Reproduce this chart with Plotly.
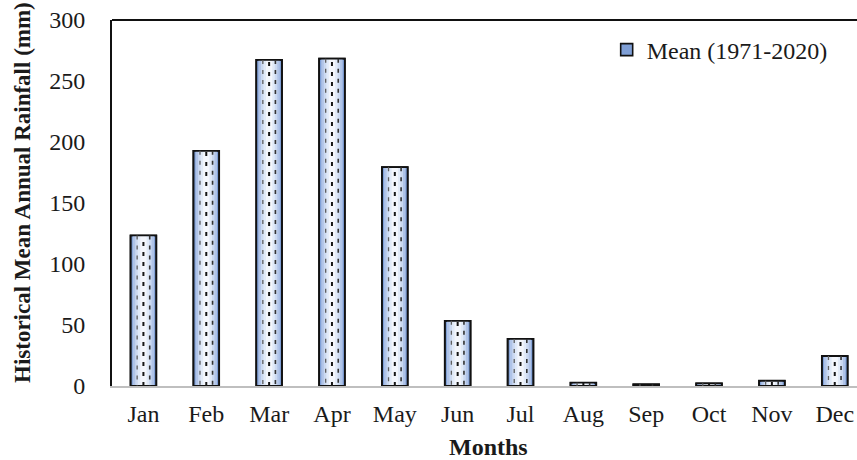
import plotly.graph_objects as go

months = ['Jan', 'Feb', 'Mar', 'Apr', 'May', 'Jun', 'Jul', 'Aug', 'Sep', 'Oct', 'Nov', 'Dec']
mean_rainfall = [123.4, 192.8, 267.3, 268.3, 179.4, 53.4, 38.6, 2.7, 1.4, 2.2, 4.3, 24.6]
y_ticks = [0, 50, 100, 150, 200, 250, 300]

x = list(range(len(months)))
font_family = 'Liberation Serif, Times New Roman, serif'
bar_width = 0.41

fig = go.Figure()

# outer bar (carries the legend entry)
fig.add_trace(go.Bar(
    x=x, y=mean_rainfall, width=bar_width,
    name='Mean (1971-2020)',
    marker=dict(color='#7f9fd6', line=dict(color='#111111', width=1.6)),
))

# stepped fill to fake the light gradient of the bars
for w, c in [(0.34, '#b0c4e8'), (0.26, '#cbd9f1'), (0.18, '#e1eaf8'), (0.10, '#f3f6fc')]:
    fig.add_trace(go.Bar(
        x=x, y=mean_rainfall, width=w, showlegend=False, hoverinfo='skip',
        marker=dict(color=c, line=dict(width=0)),
    ))

# dashed vertical pattern inside every bar
def dash_column(offset, from_top):
    xs, ys = [], []
    for i, v in zip(x, mean_rainfall):
        xs += [i + offset, i + offset, None]
        ys += ([v, 0, None] if from_top else [0, v, None])
    return xs, ys

for offset, color, width, from_top in [(-0.1, '#5e5e5e', 1.3, True),
                                        (0.0, '#161616', 2.0, False),
                                        (0.1, '#333333', 1.6, True)]:
    xs, ys = dash_column(offset, from_top)
    fig.add_trace(go.Scatter(
        x=xs, y=ys, mode='lines', showlegend=False, hoverinfo='skip',
        line=dict(color=color, width=width, dash='4px,6px'),
    ))

# outline on top so the inner fills don't cover the border
fig.add_trace(go.Bar(
    x=x, y=mean_rainfall, width=bar_width, showlegend=False, hoverinfo='skip',
    marker=dict(color='rgba(0,0,0,0)', line=dict(color='#111111', width=1.8)),
))

fig.update_layout(
    width=857, height=460,
    margin=dict(l=112, r=0, t=20, b=74),
    barmode='overlay',
    plot_bgcolor='white', paper_bgcolor='white',
    font=dict(family=font_family, size=24, color='#1a1a1a'),
    showlegend=True,
    legend=dict(x=0.664, y=0.918, xanchor='left', yanchor='middle',
                bgcolor='rgba(0,0,0,0)', font=dict(size=24, color='#1a1a1a'),
                itemwidth=30),
    xaxis=dict(
        range=[-0.5, 11.354], tickvals=x, ticktext=months,
        showgrid=False, zeroline=False, showline=True, linecolor='#bfbfbf', linewidth=2,
        ticks='', ticklabelstandoff=5, ticklabeloverflow='allow',
    ),
    yaxis=dict(
        range=[0, 300], tickvals=y_ticks,
        showgrid=False, zeroline=False, showline=True, linecolor='#111111', linewidth=2,
        ticks='', ticklabelstandoff=20, ticklabeloverflow='allow',
    ),
    annotations=[
        dict(text='<b>Months</b>', xref='paper', yref='paper', x=(488 - 112) / 745, y=(386 - 447) / 366,
             showarrow=False, font=dict(size=24, color='#1a1a1a'), xanchor='center', yanchor='middle'),
        dict(text='<b>Historical Mean Annual Rainfall (mm)</b>', xref='paper', yref='paper',
             x=(22 - 112) / 745, y=(386 - 193) / 366, textangle=-90,
             showarrow=False, font=dict(size=23, color='#1a1a1a'), xanchor='center', yanchor='middle'),
    ],
    shapes=[
        dict(type='line', xref='paper', yref='paper', x0=0, x1=1, y0=1, y1=1,
             line=dict(color='#111111', width=2)),
    ],
)

# drop the default 8px body margin so the figure fills the window
fig.write_html("out.html", config={'displayModeBar': False},
               post_script="document.body.style.margin='0';")
